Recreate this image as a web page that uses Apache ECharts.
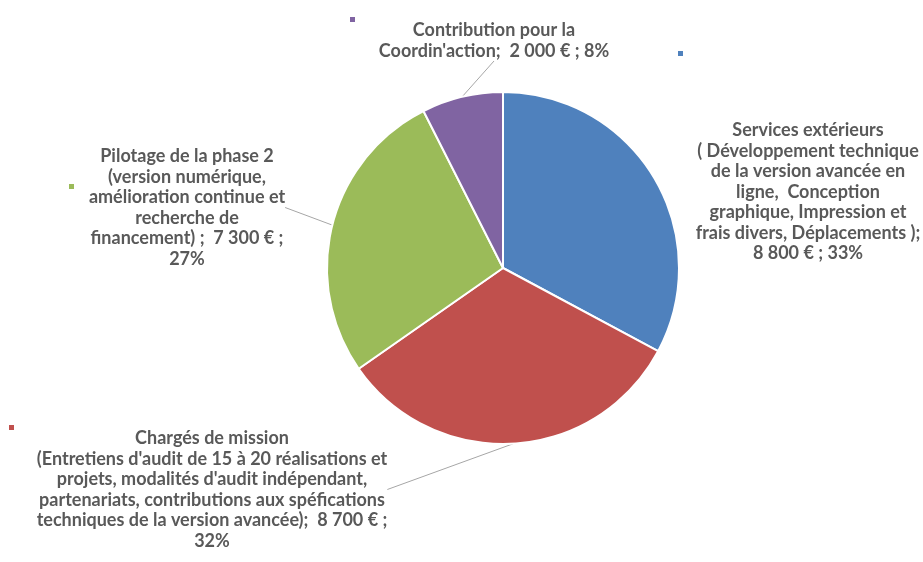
<!DOCTYPE html>
<html>
<head>
<meta charset="utf-8">
<script src="https://cdn.jsdelivr.net/npm/echarts@6/dist/echarts.min.js"></script>
<style>
  html, body { margin: 0; padding: 0; background: #fff; }
  #chart { width: 923px; height: 562px; }
</style>
</head>
<body>
<div id="chart"></div>
<script>
// postes du budget
const categories = [
  "Services extérieurs",
  "Chargés de mission",
  "Pilotage de la phase 2",
  "Contribution pour la Coordin'action",
];
const values = [8800, 8700, 7300, 2000];
const colors = ["#4F81BD", "#C0504D", "#9BBB59", "#8064A2"];
// texte des étiquettes tel qu'affiché
const labelTexts = [
  "Services extérieurs\n( Développement technique\nde la version avancée en\nligne,  Conception\ngraphique, Impression et\nfrais divers, Déplacements );\n8 800 € ; 33%",
  "Chargés de mission\n(Entretiens d'audit de 15 à 20 réalisations et\nprojets, modalités d'audit indépendant,\npartenariats, contributions aux spéfications\ntechniques de la version avancée);  8 700 € ;\n32%",
  "Pilotage de la phase 2\n(version numérique,\namélioration continue et\nrecherche de\nfinancement) ;  7 300 € ;\n27%",
  "Contribution pour la\nCoordin'action;  2 000 € ; 8%",
];

// position des étiquettes (centre x, haut y) et des clés de légende
const labelPos = [[808, 120], [212, 428], [187, 146], [494, 20]];
const keyPos = [[676, 49], [7, 423], [67, 182], [348, 15]];

const chart = echarts.init(document.getElementById("chart"));

const legends = categories.map((name, i) => ({
  data: [name],
  left: keyPos[i][0],
  top: keyPos[i][1],
  icon: "rect",
  itemWidth: 7,
  itemHeight: 7,
  selectedMode: false,
  formatter: () => "",
  padding: 0,
}));

chart.setOption({
  color: colors,
  animation: false,
  legend: legends,
  series: [
    {
      type: "pie",
      center: [503, 268],
      radius: 176,
      startAngle: 90,
      clockwise: true,
      itemStyle: { borderColor: "#fff", borderWidth: 2 },
      label: {
        show: true,
        position: "outside",
        formatter: (p) => labelTexts[p.dataIndex],
        color: "#595959",
        fontFamily: "Lato, 'Open Sans', sans-serif",
        fontWeight: "bold",
        fontSize: 18,
        lineHeight: 20.5,
        align: "center",
      },
      labelLine: {
        show: true,
        length2: 0,
        lineStyle: { color: "#A6A6A6", width: 1 },
      },
      labelLayout: (params) => ({
        x: labelPos[params.dataIndex][0],
        y: labelPos[params.dataIndex][1],
        align: "center",
        verticalAlign: "top",
      }),
      data: categories.map((name, i) => ({
        name: name,
        value: values[i],
        labelLine: { show: i !== 0 },
      })),
    },
  ],
});
</script>
</body>
</html>
